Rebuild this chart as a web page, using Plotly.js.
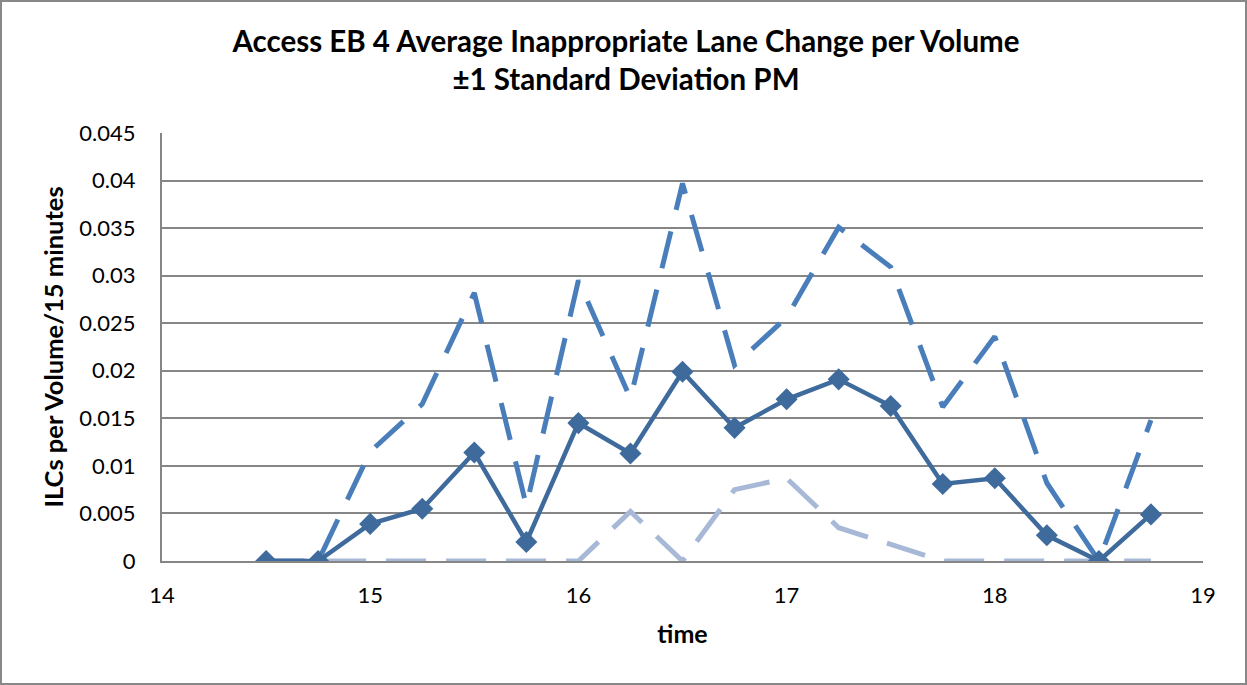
<!DOCTYPE html>
<html>
<head>
<meta charset="utf-8">
<script src="https://cdn.plot.ly/plotly-3.0.1.min.js"></script>
<style>html,body{margin:0;padding:0;background:#fff;}#chart{width:1247px;height:685px;}</style>
</head>
<body>
<div id="chart"></div>
<script>
const times = [14.5, 14.75, 15, 15.25, 15.5, 15.75, 16, 16.25, 16.5, 16.75, 17, 17.25, 17.5, 17.75, 18, 18.25, 18.5, 18.75];
const meanILC = [0, 0, 0.0039, 0.0055, 0.0114, 0.0020, 0.0145, 0.0113, 0.0199, 0.0140, 0.0170, 0.0191, 0.0163, 0.0081, 0.0087, 0.0027, 0, 0.0049];
const upperILC = [0, 0, 0.0115, 0.0165, 0.0282, 0.0058, 0.0295, 0.0171, 0.0397, 0.0206, 0.0256, 0.0351, 0.0309, 0.0162, 0.0236, 0.0082, 0, 0.0148];
const lowerILC = [0, 0, 0, 0, 0, 0, 0, 0.0052, 0, 0.0075, 0.0087, 0.0035, 0.0017, 0, 0, 0, 0, 0];
const titleText = "Access EB 4 Average Inappropriate Lane Change per Volume<br>±1 Standard Deviation PM";
const xTitle = "time";
const yTitle = "ILCs per Volume/15 minutes";

const font = "Lato, 'Open Sans', sans-serif";

const traces = [
  {x: times, y: upperILC, type: "scatter", mode: "lines", name: "+1 SD",
   line: {color: "#4A7EBB", width: 5, dash: "38px,22px"}},
  {x: times, y: lowerILC, type: "scatter", mode: "lines", name: "-1 SD",
   line: {color: "#A7B9D7", width: 5, dash: "40px,20px"}},
  {x: times, y: meanILC, type: "scatter", mode: "lines+markers", name: "Average",
   line: {color: "#3E6A9C", width: 4.5},
   marker: {symbol: "diamond", size: 17, color: "#3E6A9C"}}
];

const layout = {
  width: 1247, height: 685,
  paper_bgcolor: "#ffffff", plot_bgcolor: "#ffffff",
  showlegend: false,
  margin: {l: 162, r: 44, t: 133, b: 124},
  font: {family: font, color: "#000000", size: 22},
  title: {text: "<b>" + titleText + "</b>", font: {family: font, size: 29.5, color: "#000"},
          x: 0.502, xanchor: "center", xref: "container", yref: "container", y: 1 - 52/685, yanchor: "top"},
  xaxis: {range: [14, 19], dtick: 1, tick0: 14, showgrid: false, zeroline: false,
          showline: true, linecolor: "#868686", linewidth: 2, ticks: "", ticklabelstandoff: 14,
          tickfont: {family: font, size: 22},
          title: {text: "<b>" + xTitle + "</b>", font: {family: font, size: 25}, standoff: 18}},
  yaxis: {range: [0, 0.045], dtick: 0.005, tick0: 0, showgrid: true, gridcolor: "#868686", gridwidth: 2,
          zeroline: false, showline: true, linecolor: "#868686", linewidth: 2, ticks: "", ticklabelstandoff: 20,
          tickfont: {family: font, size: 22},
          title: {text: "<b>" + yTitle + "</b>", font: {family: font, size: 25.5}, standoff: 8}},
  shapes: [{type: "rect", xref: "paper", yref: "paper",
    x0: -161/1041, x1: 1 + 43/1041, y0: -123/428, y1: 1 + 132/428,
    line: {color: "#888888", width: 2}, fillcolor: "rgba(0,0,0,0)"}]
};

Plotly.newPlot("chart", traces, layout, {displayModeBar: false, staticPlot: true});
</script>
</body>
</html>
